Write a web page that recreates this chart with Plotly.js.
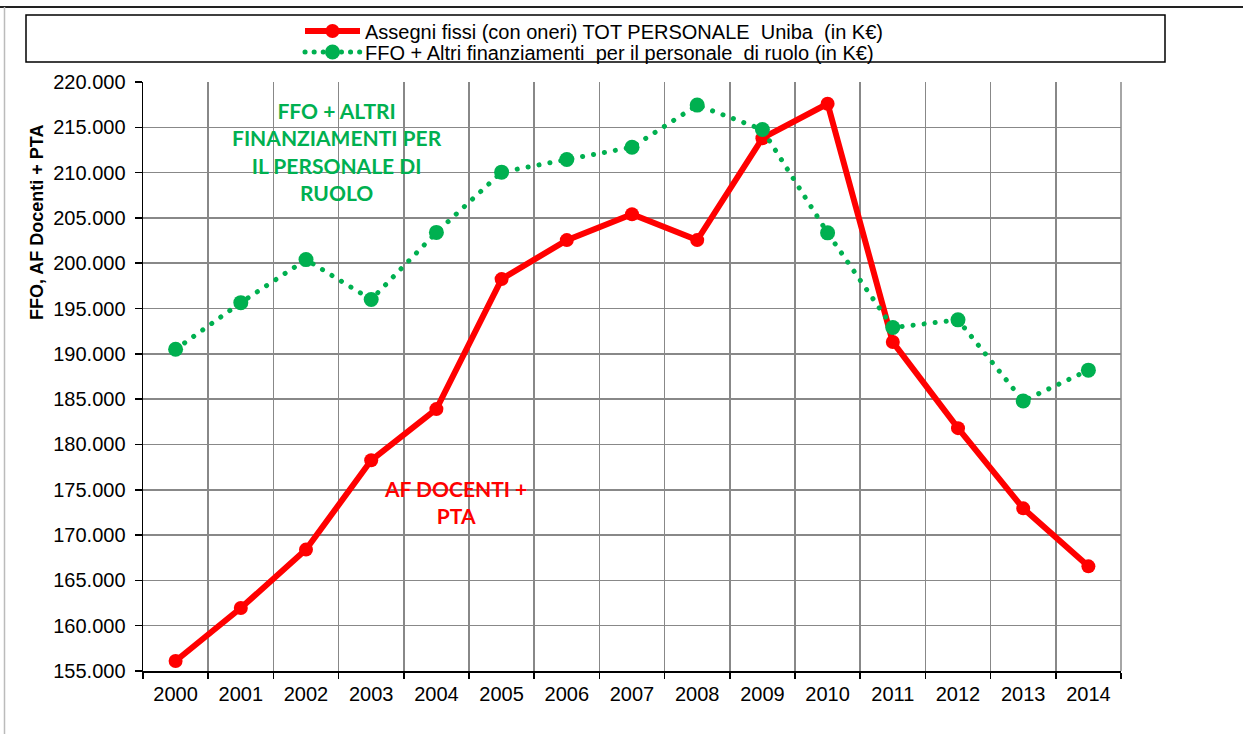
<!DOCTYPE html>
<html>
<head>
<meta charset="utf-8">
<script src="https://cdn.plot.ly/plotly-3.0.1.min.js"></script>
<style>html,body{margin:0;padding:0;background:#fff;}#chart{width:1243px;height:734px;}</style>
</head>
<body>
<div id="chart"></div>
<script>
const years = ['2000','2001','2002','2003','2004','2005','2006','2007','2008','2009','2010','2011','2012','2013','2014'];
const assegniFissi = [156100, 161950, 168400, 178250, 183900, 198250, 202550, 205400, 202550, 213800, 217600, 191300, 181800, 172950, 166550];
const ffoAltri = [190500, 195650, 200400, 196000, 203400, 210050, 211450, 212800, 217450, 214750, 203350, 192900, 193750, 184800, 188200];
const nameRed = 'Assegni fissi (con oneri) TOT PERSONALE\u00A0 Uniba\u00A0 (in K€)';
const nameGreen = 'FFO + Altri finanziamenti\u00A0 per il personale\u00A0 di ruolo (in K€)';
const yTitle = 'FFO, AF Docenti + PTA';
const noteGreen = 'FFO + ALTRI<br>FINANZIAMENTI PER<br>IL PERSONALE DI<br>RUOLO';
const noteRed = 'AF DOCENTI +<br>PTA';

const RED = '#FF0000', GREEN = '#00B050';
const tickFont = {family: 'Liberation Sans, Arial, sans-serif', size: 20, color: '#000'};
const legFont = {family: 'Liberation Sans, Arial, sans-serif', size: 20, color: '#000'};

const traces = [
  {x: years, y: assegniFissi, name: nameRed, type: 'scatter', mode: 'lines+markers', legend: 'legend',
   line: {color: RED, width: 6}, marker: {color: RED, size: 14}},
  {x: years, y: ffoAltri, name: nameGreen, type: 'scatter', mode: 'lines+markers', legend: 'legend2',
   line: {color: GREEN, width: 5, dash: '1px,11px'}, marker: {color: GREEN, size: 15}}
];

// pixel helpers for paper coords (plot area: x 143..1121, y 82..671)
const L = 143, R = 1121, T = 82, B = 671;
const px = x => (x - L) / (R - L);
const py = y => (B - y) / (B - T);

const legBase = {
  xanchor: 'left', yanchor: 'middle',
  bgcolor: 'rgba(0,0,0,0)', borderwidth: 0,
  font: legFont, itemwidth: 55
};

const layout = {
  width: 1243, height: 734,
  margin: {l: L, r: 1243 - R, t: T, b: 734 - B, pad: 0},
  paper_bgcolor: '#fff', plot_bgcolor: '#fff',
  separators: ',.',
  showlegend: true,
  legend: Object.assign({}, legBase, {x: px(300), y: py(31)}),
  legend2: Object.assign({}, legBase, {x: px(300), y: py(52)}),
  xaxis: {
    type: 'category', tickson: 'boundaries',
    range: [-0.5, 14.5],
    showgrid: true, gridcolor: '#888888', gridwidth: 1.5,
    showline: true, linecolor: '#000', linewidth: 1.5,
    ticks: 'outside', ticklen: 6, tickcolor: '#000', tickwidth: 1.5,
    tickfont: tickFont, ticklabelstandoff: 4, zeroline: false
  },
  yaxis: {
    range: [155000, 220000], dtick: 5000, tick0: 155000,
    tickformat: ',d',
    showgrid: true, gridcolor: '#888888', gridwidth: 1.5,
    showline: true, linecolor: '#000', linewidth: 1.5,
    ticks: 'outside', ticklen: 7, tickcolor: '#000', tickwidth: 1.5,
    tickfont: tickFont, ticklabelstandoff: 5, zeroline: false
  },
  shapes: [
    {type: 'line', xref: 'paper', yref: 'paper', x0: 1, x1: 1, y0: 0, y1: 1, line: {color: '#888888', width: 1.5}},
    {type: 'rect', xref: 'paper', yref: 'paper', x0: px(26), x1: px(1165), y0: py(62), y1: py(15), line: {color: '#000', width: 1.5}},
    {type: 'line', xref: 'paper', yref: 'paper', x0: px(0), x1: px(1243), y0: py(7), y1: py(7), line: {color: '#222', width: 2}},
    {type: 'line', xref: 'paper', yref: 'paper', x0: px(4.5), x1: px(4.5), y0: py(7), y1: py(734), line: {color: '#bbbbbb', width: 1.5}}
  ],
  annotations: [
    {text: '<b>' + yTitle + '</b>', xref: 'paper', yref: 'paper', x: px(37), y: py(222),
     xanchor: 'center', yanchor: 'middle', textangle: -90, showarrow: false,
     font: {family: 'Liberation Sans, Arial, sans-serif', size: 18, color: '#000'}},
    {text: '<b>' + noteGreen + '</b>', xref: 'paper', yref: 'paper', x: px(337), y: py(151),
     xanchor: 'center', yanchor: 'middle', align: 'center', showarrow: false,
     font: {family: 'Lato, sans-serif', size: 21, color: GREEN}},
    {text: '<b>' + noteRed + '</b>', xref: 'paper', yref: 'paper', x: px(455), y: py(502),
     xanchor: 'center', yanchor: 'middle', align: 'center', showarrow: false,
     font: {family: 'Lato, sans-serif', size: 21, color: RED}}
  ]
};

Plotly.newPlot('chart', traces, layout, {displayModeBar: false, staticPlot: true}).then(gd => {
  // round dotted line like the original (round caps on the green dotted line)
  gd.querySelectorAll('path.js-line').forEach(p => {
    if ((p.style.stroke || '').replace(/\s/g, '') === 'rgb(0,176,80)') {
      p.style.strokeLinecap = 'round';
      p.style.strokeDasharray = '0.1px,11px';
    }
  });
  gd.querySelectorAll('.legendlines path').forEach(p => {
    if ((p.style.stroke || '').replace(/\s/g, '') === 'rgb(0,176,80)') {
      p.style.strokeLinecap = 'round';
      p.style.strokeDasharray = '0.1px,9px';
    }
  });
});
</script>
</body>
</html>
